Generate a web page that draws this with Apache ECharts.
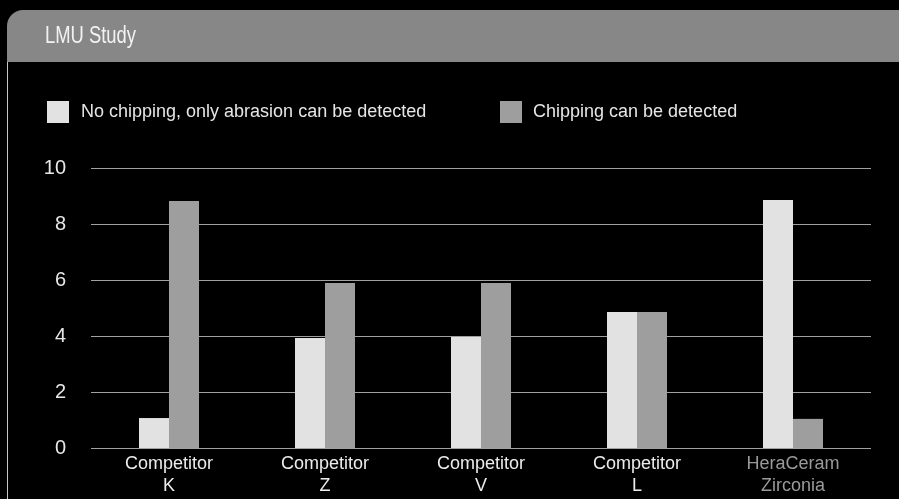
<!DOCTYPE html>
<html>
<head>
<meta charset="utf-8">
<script src="https://cdn.jsdelivr.net/npm/echarts@6/dist/echarts.min.js"></script>
<style>
html,body{margin:0;padding:0;background:#000;}
#c{width:899px;height:499px;}
</style>
</head>
<body>
<div id="c"></div>
<script>
var title = 'LMU Study';
var categories = ['Competitor\nK', 'Competitor\nZ', 'Competitor\nV', 'Competitor\nL', 'HeraCeram\nZirconia'];
var seriesNames = ['No chipping, only abrasion can be detected', 'Chipping can be detected'];
var noChipping = [1.07, 3.93, 3.96, 4.86, 8.86];
var chipping = [8.82, 5.89, 5.89, 4.86, 1.04];
var yTicks = { min: 0, max: 10, interval: 2 };

var FONT = '"Liberation Sans", Arial, sans-serif';
var chart = echarts.init(document.getElementById('c'));
chart.setOption({
  backgroundColor: '#000',
  animation: false,
  graphic: [
    { type: 'rect', shape: { x: 7, y: 10, width: 900, height: 52, r: [16, 0, 0, 0] }, style: { fill: '#878787' }, z: 1 },
    { type: 'line', shape: { x1: 7.5, y1: 62, x2: 7.5, y2: 499 }, style: { stroke: '#c8c8c8', lineWidth: 1 }, z: 1 },
    { type: 'text', x: 45, y: 37, scaleX: 0.8, originX: 0, originY: 0,
      style: { text: title, x: 0, y: 0, fill: '#f2f2f2', verticalAlign: 'middle', textVerticalAlign: 'middle',
        font: '23px "Liberation Sans Narrow", "Liberation Sans", sans-serif' }, z: 2 }
  ],
  legend: [
    { data: [seriesNames[0]], left: 47, top: 101, padding: 0, itemWidth: 22, itemHeight: 22, icon: 'rect',
      textStyle: { color: '#e6e6e6', fontSize: 18, fontFamily: FONT, padding: [0, 0, 0, 7] } },
    { data: [seriesNames[1]], left: 500, top: 101, padding: 0, itemWidth: 22, itemHeight: 22, icon: 'rect',
      textStyle: { color: '#e6e6e6', fontSize: 18, fontFamily: FONT, padding: [0, 0, 0, 6] } }
  ],
  grid: { left: 91, right: 28, top: 168, bottom: 51, containLabel: false },
  xAxis: {
    type: 'category',
    data: categories,
    axisLine: { show: false },
    axisTick: { show: false },
    axisLabel: {
      margin: 5,
      fontSize: 18,
      lineHeight: 22,
      fontFamily: FONT,
      color: function (v, i) { return i === 4 ? '#9a9a9a' : '#ececec'; }
    }
  },
  yAxis: {
    type: 'value',
    min: yTicks.min, max: yTicks.max, interval: yTicks.interval,
    axisLine: { show: false },
    axisTick: { show: false },
    axisLabel: { margin: 25, fontSize: 20, fontFamily: FONT, color: '#e6e6e6' },
    splitLine: { lineStyle: { color: '#a0a0a0', width: 1.2 } }
  },
  series: [
    { name: seriesNames[0], type: 'bar', data: noChipping, barWidth: 30, barGap: '0%', itemStyle: { color: '#e2e2e2' } },
    { name: seriesNames[1], type: 'bar', data: chipping, barWidth: 30, barGap: '0%', itemStyle: { color: '#9e9e9e' } }
  ]
});
</script>
</body>
</html>
